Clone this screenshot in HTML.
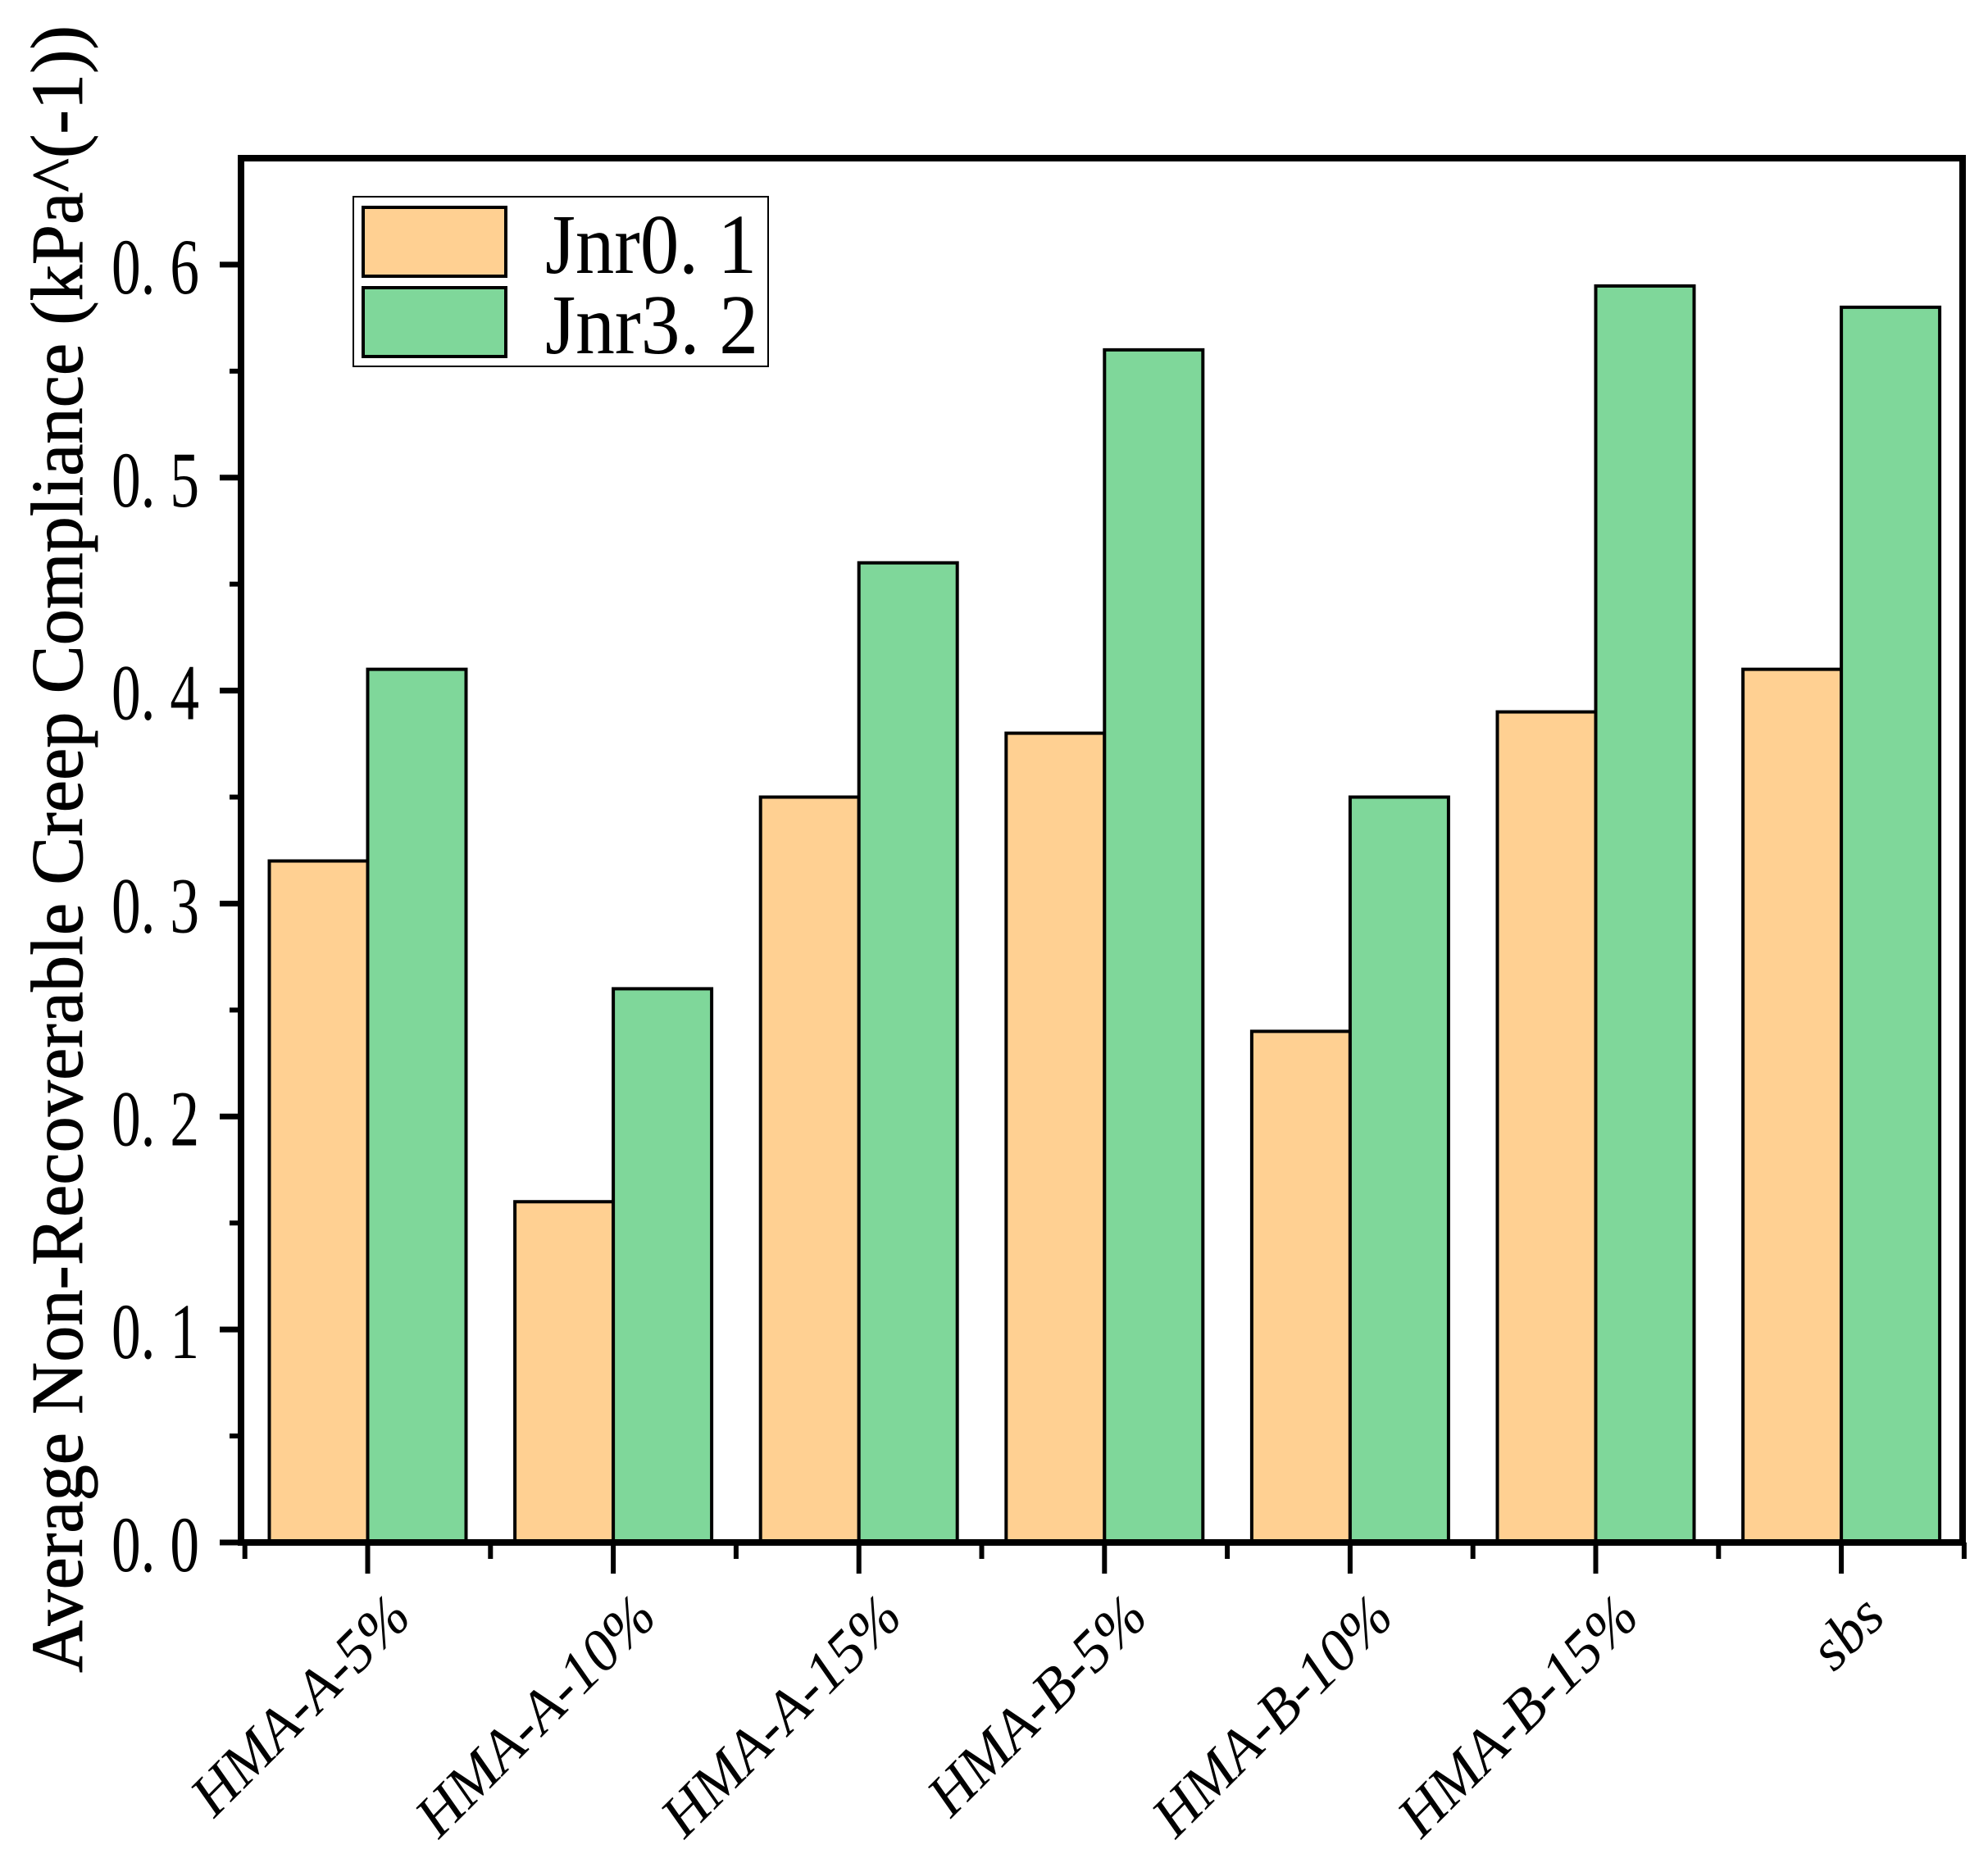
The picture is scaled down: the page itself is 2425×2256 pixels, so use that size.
<!DOCTYPE html>
<html><head><meta charset="utf-8"><style>
html,body{margin:0;padding:0;background:#fff;}
svg{display:block;}
text{font-family:"Liberation Serif","Noto Serif CJK SC",serif;fill:#000;}
</style></head><body>
<svg id="chart" width="2425" height="2256" viewBox="0 0 2425 2256" xmlns="http://www.w3.org/2000/svg">
<g id="bars"></g>
<g id="axes"></g>
<text transform="translate(100,1036) rotate(-90)" text-anchor="middle" font-size="90" stroke="#000" stroke-width="0.8" textLength="2010" lengthAdjust="spacingAndGlyphs">Average Non-Recoverable Creep Compliance (kPa^(-1))</text>
<g>
<rect x="431" y="240" width="506" height="207" fill="#fff" stroke="#000" stroke-width="2"/>
<rect x="443" y="253" width="174" height="84" fill="#FFD092" stroke="#000" stroke-width="4"/>
<rect x="443" y="351" width="174" height="84" fill="#7FD79A" stroke="#000" stroke-width="4"/>
<text x="665" y="333" font-size="104" textLength="258" lengthAdjust="spacingAndGlyphs">Jnr0. 1</text>
<text x="665" y="431" font-size="104" textLength="260" lengthAdjust="spacingAndGlyphs">Jnr3. 2</text>
</g>
</svg>
<script>
const categories = ["HMA-A-5%","HMA-A-10%","HMA-A-15%","HMA-B-5%","HMA-B-10%","HMA-B-15%","sbs"];
const jnr01 = [0.32,0.16,0.35,0.38,0.24,0.39,0.41];
const jnr32 = [0.41,0.26,0.46,0.56,0.35,0.59,0.58];
const yTicks = [0.0,0.1,0.2,0.3,0.4,0.5,0.6];
const yTickLabels = ["0. 0","0. 1","0. 2","0. 3","0. 4","0. 5","0. 6"];

const NS="http://www.w3.org/2000/svg";
const L=294,R=2394,T=193,B=1882,YMAX=0.65;
const y=v=>B-(v/YMAX)*(B-T);
const x=i=>448.5+i*299.6;
const BW=120;
function mk(tag,attrs,parent){const e=document.createElementNS(NS,tag);for(const k in attrs)e.setAttribute(k,attrs[k]);parent.appendChild(e);return e;}
const bars=document.getElementById('bars'),axes=document.getElementById('axes');
categories.forEach((c,i)=>{
  const a=mk('rect',{x:x(i)-BW,y:y(jnr01[i]),width:BW,height:B-y(jnr01[i]),fill:'#FFD092',stroke:'#000','stroke-width':4},bars);
  
  
  const b=mk('rect',{x:x(i),y:y(jnr32[i]),width:BW,height:B-y(jnr32[i]),fill:'#7FD79A',stroke:'#000','stroke-width':4},bars);
  
  
  const t=mk('text',{transform:`translate(${x(i)+56},1976) rotate(-45)`,'text-anchor':'end','font-size':72,'font-style':'italic'},axes);
  t.textContent=c;
  
  
  const tk=mk('line',{x1:x(i),x2:x(i),y1:B,y2:B+38,stroke:'#000','stroke-width':6},axes);
  
  
});
for(let i=-1;i<categories.length;i++){
  const mx=x(i)+149.8;
  if(mx<L-2||mx>R+2)continue;
  const m=mk('line',{x1:mx,x2:mx,y1:B,y2:B+20,stroke:'#000','stroke-width':6},axes);
  
  
}
yTicks.forEach((v,i)=>{
  const tk=mk('line',{x1:L-26,x2:L,y1:y(v),y2:y(v),stroke:'#000','stroke-width':7},axes);
  
  
  const mv=v+0.05;
  if(mv<YMAX){const m=mk('line',{x1:L-14,x2:L,y1:y(mv),y2:y(mv),stroke:'#000','stroke-width':6},axes);
  
  }
  const t=mk('text',{x:243,y:y(v)+35,'text-anchor':'end','font-size':96,textLength:107,lengthAdjust:'spacingAndGlyphs'},axes);
  t.textContent=yTickLabels[i];
  
  
});
const frame=mk('rect',{x:L,y:T,width:R-L,height:B-T,fill:'none',stroke:'#000','stroke-width':8},axes);


</script>
</body></html>
